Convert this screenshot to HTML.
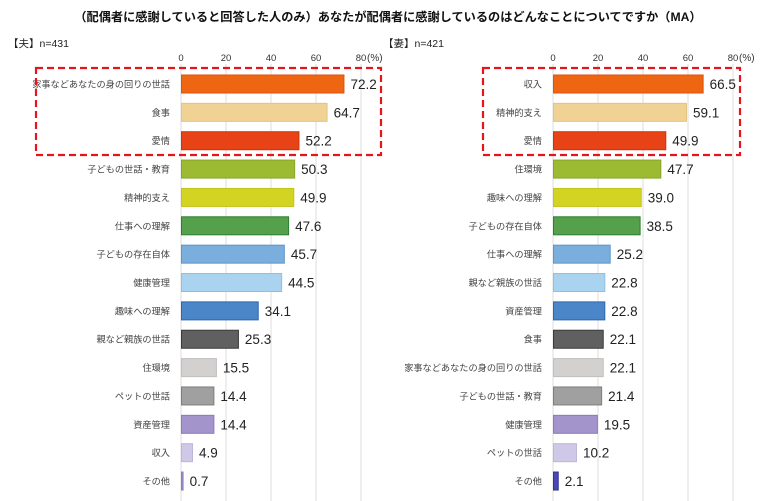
<!DOCTYPE html>
<html><head><meta charset="utf-8"><style>
body{margin:0;background:#fff;}
svg{display:block;}
</style></head><body>
<svg width="760" height="501" viewBox="0 0 760 501" xmlns="http://www.w3.org/2000/svg">
<text x="388" y="21" text-anchor="middle" font-size="12.2" font-weight="bold" fill="#111" font-family="Liberation Sans,Noto Sans CJK JP,sans-serif">（配偶者に感謝していると回答した人のみ）あなたが配偶者に感謝しているのはどんなことについてですか（MA）</text>
<text x="8" y="47" font-size="10.5" fill="#222" font-family="Liberation Sans,Noto Sans CJK JP,sans-serif">【夫】n=431</text>
<text x="383" y="47" font-size="10.5" fill="#222" font-family="Liberation Sans,Noto Sans CJK JP,sans-serif">【妻】n=421</text>
<g id="L"></g>
<g id="R"></g>
</svg>
<script>
var C={or:["#EE6512","#DD5210"],tan:["#EFD294","#E5C47C"],red:["#E84317","#D32F10"],ol:["#9DBB32","#88A628"],ye:["#D3D422","#C2C31A"],gr:["#55A04A","#2E7D32"],lb:["#7AAFDD","#5B96D0"],lb2:["#A9D3EF","#8DC0E6"],bl:["#4A86C8","#2E66B0"],dg:["#606060","#3A3A3A"],lg:["#D3D0D0","#C0BDBD"],g:["#A0A0A0","#7E7E7E"],pu:["#A394CB","#8A7BBF"],la:["#CFC8E6","#BDB4DC"],ot1:["#9A94CC","#8580C0"],ot2:["#4A4AB0","#303098"]};
var L=[["家事などあなたの身の回りの世話",72.2,"or"],["食事",64.7,"tan"],["愛情",52.2,"red"],["子どもの世話・教育",50.3,"ol"],["精神的支え",49.9,"ye"],["仕事への理解",47.6,"gr"],["子どもの存在自体",45.7,"lb"],["健康管理",44.5,"lb2"],["趣味への理解",34.1,"bl"],["親など親族の世話",25.3,"dg"],["住環境",15.5,"lg"],["ペットの世話",14.4,"g"],["資産管理",14.4,"pu"],["収入",4.9,"la"],["その他",0.7,"ot1"]];
var R=[["収入",66.5,"or"],["精神的支え",59.1,"tan"],["愛情",49.9,"red"],["住環境",47.7,"ol"],["趣味への理解",39.0,"ye"],["子どもの存在自体",38.5,"gr"],["仕事への理解",25.2,"lb"],["親など親族の世話",22.8,"lb2"],["資産管理",22.8,"bl"],["食事",22.1,"dg"],["家事などあなたの身の回りの世話",22.1,"lg"],["子どもの世話・教育",21.4,"g"],["健康管理",19.5,"pu"],["ペットの世話",10.2,"la"],["その他",2.1,"ot2"]];
var F='font-family="Liberation Sans,Noto Sans CJK JP,sans-serif"';
function draw(id,data,x0,box){
 var s="";
 for(var k=0;k<=4;k++){var x=x0+k*45;s+='<line x1="'+x+'" y1="64" x2="'+x+'" y2="501" stroke="#DCDCDC" stroke-width="1"/>';
  s+='<text x="'+x+'" y="61" text-anchor="middle" font-size="9.5" fill="#333" '+F+'>'+(k*20)+'</text>';}
 s+='<text x="'+(x0+186)+'" y="61" font-size="10" fill="#333" '+F+'>(%)</text>';
 for(var i=0;i<data.length;i++){var d=data[i],cy=84+i*28.36,w=d[1]*2.25,c=C[d[2]];
  s+='<rect x="'+(x0+0.5)+'" y="'+(cy-9)+'" width="'+Math.max(w,1.5)+'" height="18" fill="'+c[0]+'" stroke="'+c[1]+'" stroke-width="1"/>';
  s+='<text x="'+(x0-11)+'" y="'+(cy+3.5)+'" text-anchor="end" font-size="9.2" fill="#444" '+F+'>'+d[0]+'</text>';
  s+='<text x="'+(x0+w+7)+'" y="'+(cy+5)+'" font-size="13.5" fill="#222" '+F+'>'+d[1].toFixed(1)+'</text>';}
 s+='<rect x="'+box[0]+'" y="'+box[1]+'" width="'+(box[2]-box[0])+'" height="'+(box[3]-box[1])+'" fill="none" stroke="#E8141C" stroke-width="2.2" stroke-dasharray="7,4"/>';
 document.getElementById(id).innerHTML=s;
}
draw("L",L,181,[36,68,381,155]);
draw("R",R,553,[483,68,740,155]);
</script>
</body></html>
